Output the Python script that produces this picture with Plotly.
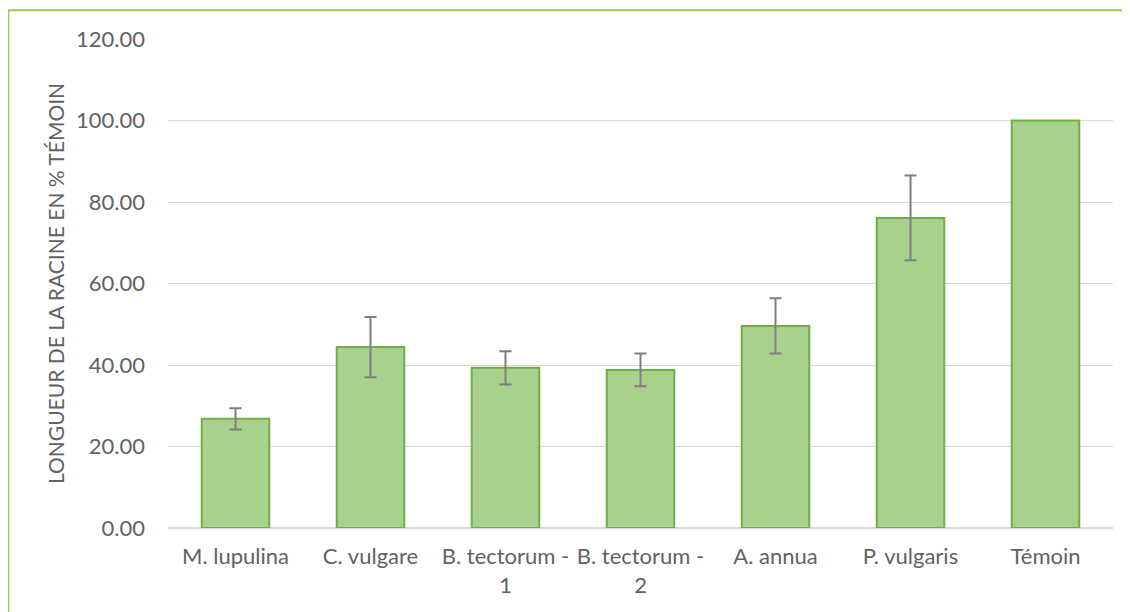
import plotly.graph_objects as go

categories = ["M. lupulina", "C. vulgare", "B. tectorum -<br>1", "B. tectorum -<br>2",
              "A. annua", "P. vulgaris", "Témoin"]
values = [26.8, 44.4, 39.3, 38.8, 49.6, 76.1, 100.0]
errors = [2.6, 7.4, 4.1, 4.0, 6.8, 10.4, 0.0]
y_ticks = [0, 20, 40, 60, 80, 100, 120]

text_color = "#626262"
font = "Lato, Carlito, Calibri, sans-serif"
bar_style = {"color": "#A9D18E", "line": {"color": "#70AD47", "width": 2}}

fig = go.Figure()
# bars with an error bar; the control (Témoin) has none, so it gets its own trace
fig.add_trace(go.Bar(
    x=categories[:-1],
    y=values[:-1],
    width=0.5,
    marker=bar_style,
    error_y={"type": "data", "array": errors[:-1], "visible": True,
             "color": "#7F7F7F", "thickness": 2, "width": 6},
))
fig.add_trace(go.Bar(x=categories[-1:], y=values[-1:], width=0.5, marker=bar_style))

# light green frame around the chart (right edge runs off the page)
fig.add_shape(type="rect", xref="paper", yref="paper",
              x0=-0.169, x1=1.05, y0=-0.2, y1=1.059,
              line={"color": "#92D050", "width": 2}, layer="below")

fig.update_layout(
    width=1122, height=604,
    margin={"l": 160, "r": 17, "t": 31, "b": 84},
    plot_bgcolor="white", paper_bgcolor="white",
    font={"family": font, "size": 22, "color": text_color},
    showlegend=False,
    barmode="overlay",
)
fig.update_yaxes(
    range=[0, 120], tickvals=y_ticks, tickformat=".2f",
    gridcolor="#D9D9D9", gridwidth=1, zeroline=True, zerolinecolor="#D9D9D9",
    showline=False, ticks="", ticklabelstandoff=22,
    title={"text": "LONGUEUR DE LA RACINE EN % TÉMOIN", "standoff": 5,
           "font": {"size": 21, "color": text_color}},
)
fig.update_xaxes(showline=False, ticks="", showgrid=False, ticklabelstandoff=13,
                 categoryorder="array", categoryarray=categories)

fig.write_html("out.html")
